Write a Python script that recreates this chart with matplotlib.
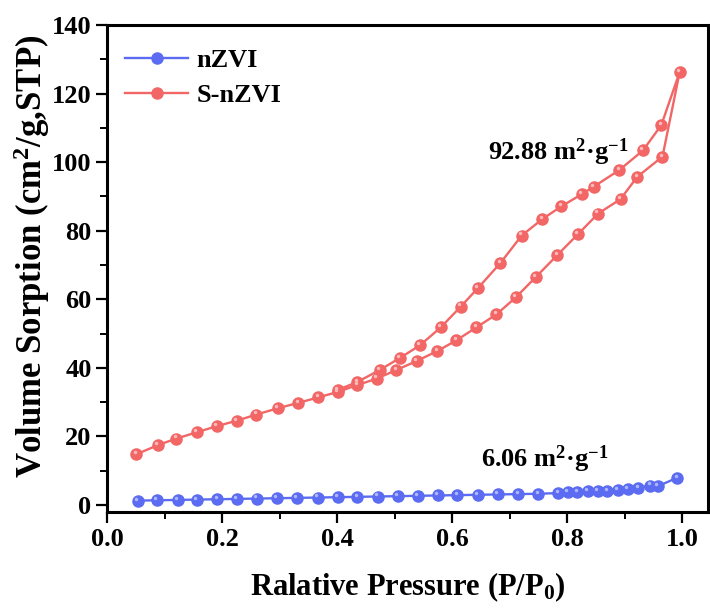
import matplotlib
matplotlib.use('Agg')
import matplotlib.pyplot as plt
import matplotlib.transforms as mtransforms
from matplotlib.ticker import MultipleLocator

plt.rcParams['font.family'] = ['Liberation Serif', 'DejaVu Serif']
plt.rcParams['font.weight'] = 'bold'
plt.rcParams['mathtext.fontset'] = 'custom'
plt.rcParams['mathtext.rm'] = 'Liberation Serif:bold'
plt.rcParams['mathtext.bf'] = 'Liberation Serif:bold'
plt.rcParams['mathtext.default'] = 'bf'

# nZVI isotherm
nzvi_p = [0.053, 0.086, 0.122, 0.156, 0.191, 0.225, 0.260, 0.295, 0.330, 0.366,
          0.401, 0.435, 0.470, 0.505, 0.540, 0.575, 0.609, 0.645, 0.679, 0.715,
          0.750, 0.785, 0.801, 0.818, 0.836, 0.853, 0.870, 0.888, 0.906, 0.924,
          0.945, 0.958, 0.992]
nzvi_v = [1.3, 1.4, 1.5, 1.6, 1.7, 1.8, 1.9, 2.0, 2.1, 2.2,
          2.3, 2.4, 2.5, 2.6, 2.7, 2.8, 2.9, 3.0, 3.1, 3.2,
          3.3, 3.5, 3.7, 3.8, 4.0, 4.1, 4.2, 4.4, 4.7, 5.0,
          5.7, 5.5, 8.0]

# S-nZVI adsorption branch then desorption branch
s_ads_p = [0.050, 0.088, 0.120, 0.155, 0.190, 0.225, 0.259, 0.296, 0.332, 0.367,
           0.401, 0.435, 0.469, 0.503, 0.538, 0.574, 0.607, 0.642, 0.677, 0.711,
           0.745, 0.783, 0.819, 0.854, 0.893, 0.922, 0.966, 0.996]
s_ads_v = [14.8, 17.5, 19.4, 21.2, 23.0, 24.6, 26.4, 28.2, 29.8, 31.4,
           33.0, 35.0, 36.9, 39.4, 42.0, 44.9, 48.0, 51.8, 55.6, 60.6,
           66.4, 72.9, 79.0, 85.0, 89.2, 95.7, 101.6, 126.3]
s_des_p = [0.964, 0.932, 0.891, 0.846, 0.826, 0.790, 0.757, 0.721, 0.684, 0.645,
           0.615, 0.580, 0.544, 0.509, 0.474, 0.435, 0.401]
s_des_v = [110.8, 103.4, 97.7, 92.8, 90.7, 87.1, 83.4, 78.6, 70.6, 63.3,
           57.9, 51.8, 46.6, 42.9, 39.4, 35.9, 33.6]

s_p = s_ads_p + s_des_p
s_v = s_ads_v + s_des_v

blue = '#5b6cf2'
red = '#f26666'

fig = plt.figure(figsize=(7.1, 6.08), dpi=100)
ax = fig.add_axes([0.1514, 0.158, 0.8456, 0.801])

ax.plot(nzvi_p, nzvi_v, '-o', color=blue, lw=1.7, ms=8, mec=blue, label='nZVI')
ax.plot(s_p, s_v, '-o', color=red, lw=1.7, ms=8, mec=red, label='S-nZVI')

# little highlight on each ball
hl = mtransforms.offset_copy(ax.transData, fig=fig, x=-1.2, y=1.5, units='points')
ax.plot(nzvi_p, nzvi_v, 'o', color='#b8c0ff', ms=2.5, mew=0, alpha=0.9, transform=hl)
ax.plot(s_p, s_v, 'o', color='#ffc4c4', ms=2.5, mew=0, alpha=0.9, transform=hl)

ax.set_xlim(0.0, 1.045)
ax.set_ylim(-2, 140)
ax.xaxis.set_major_locator(MultipleLocator(0.2))
ax.xaxis.set_minor_locator(MultipleLocator(0.1))
ax.yaxis.set_major_locator(MultipleLocator(20))
ax.yaxis.set_minor_locator(MultipleLocator(10))
ax.xaxis.set_major_formatter(matplotlib.ticker.FormatStrFormatter('%.1f'))

ax.tick_params(which='major', direction='out', length=8, width=1.6, labelsize=19)
ax.tick_params(which='minor', direction='out', length=5, width=1.4)
ax.tick_params(top=False, right=False, which='both')
for s in ax.spines.values():
    s.set_linewidth(2.2)

ax.set_xlabel('Ralative Pressure (P/P$_0$)', fontsize=22, fontweight='bold', labelpad=14)
ax.set_ylabel('Volume Sorption (cm$^2$/g,STP)', fontsize=25, fontweight='bold')
ax.yaxis.set_label_coords(-0.093, 0.525)

ax.text(0.785, 103, '92.88 m$^2$·g$^{-1}$', fontsize=19, ha='center', va='center')
ax.text(0.762, 13.5, '6.06 m$^2$·g$^{-1}$', fontsize=19, ha='center', va='center')

ax.legend(loc='upper left', bbox_to_anchor=(0.007, 0.978), frameon=False,
          handlelength=2.4, handletextpad=0.3, borderpad=0,
          labelspacing=0.42, prop={'weight': 'bold', 'size': 19})

fig.savefig('out.png', dpi=100)
